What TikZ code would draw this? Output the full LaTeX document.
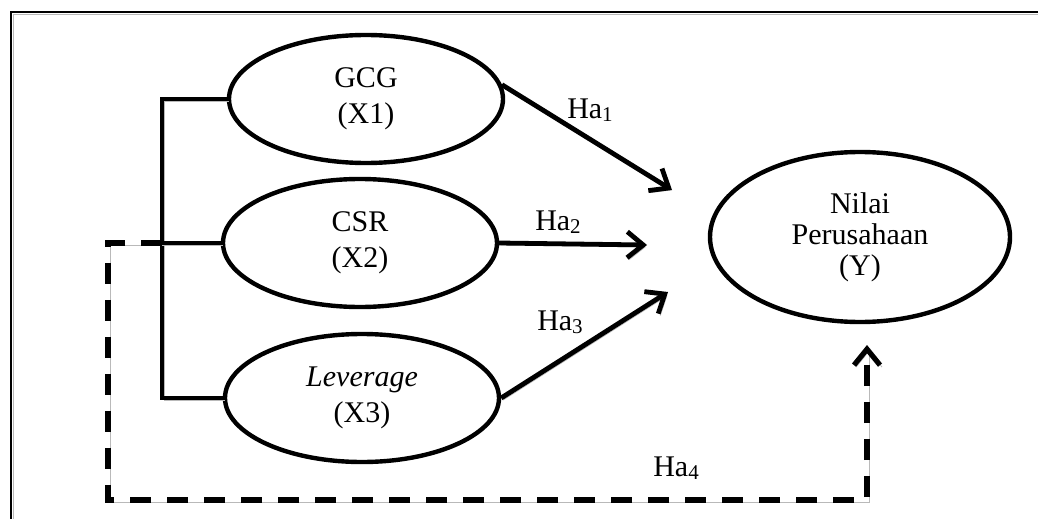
\documentclass[tikz,border=0pt]{standalone}
\usepackage{fontspec}
\setmainfont{Liberation Serif}
\usetikzlibrary{shapes.geometric,arrows.meta}
\begin{document}
\begin{tikzpicture}[x=0.5pt,y=-0.5pt,
  var/.style={ellipse,draw,line width=2.2pt,inner sep=0pt,align=center,
    minimum width=137pt,minimum height=64pt,
    font=\fontsize{15}{18}\selectfont},
  shadowed/.style={preaction={draw=gray!55,transform canvas={shift={(1pt,-1pt)}}}},
  barb/.style={-{Straight Barb[length=8pt,width=13pt]}},
  link/.style={line width=2.4pt,shadowed},
  hyp/.style={link,barb},
  dashlink/.style={line width=2.6pt,dash pattern=on 10.5pt off 8pt,shadowed},
  lbl/.style={font=\fontsize{15}{16}\selectfont,inner sep=0pt}]
\useasboundingbox (0,0) rectangle (1038,519);

% frame (only top and left edges fall inside the picture)
\draw[line width=1.1pt,shadowed] (11,519) -- (11,12) -- (1038,12);

% variables
\node[var] (gcg) at (366,99) {GCG\\(X1)};
\node[var] (csr) at (360,243) {CSR\\(X2)};
\node[var] (lev) at (362,398) {\textit{Leverage}\\(X3)};
\node[var,minimum width=150pt,minimum height=85pt,
  font=\fontsize{15}{15.5}\selectfont] (y) at (860,237) {Nilai\\Perusahaan\\(Y)};

% helper points
\coordinate (spine) at (162,0);
\coordinate (dl) at (108,500);
\coordinate (t1) at (672,190);
\coordinate (t2) at (647,245);
\coordinate (t3) at (668,292);
\coordinate (t4) at (867,345);

% bracket joining the independent variables
\draw[link] (gcg.west) -- (gcg.west -| spine) |- (lev.west);
\draw[link] (csr.west) -- (csr.west -| spine);

% partial hypotheses
\draw[hyp] (gcg.6) -- (t1);
\draw[hyp] (csr.east) -- (t2);
\draw[hyp] (lev.east) -- (t3);

% simultaneous hypothesis
\draw[dashlink,barb] (csr.west -| spine) -| (dl) -| (t4);

% labels
\newcommand\hsub[1]{\raisebox{-0.25ex}{\fontsize{10.5}{10.5}\selectfont #1}}
\node[lbl] (h1) at (590,110) {Ha\hsub{1}};
\node[lbl] (h2) at (558,222) {Ha\hsub{2}};
\node[lbl] (h3) at (560,322) {Ha\hsub{3}};
\node[lbl] (h4) at (676,468) {Ha\hsub{4}};
\end{tikzpicture}
\end{document}
